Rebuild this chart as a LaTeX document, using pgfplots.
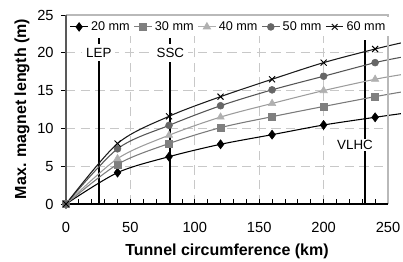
\documentclass[border=0pt]{standalone}
\usepackage{fontspec}
\setmainfont{Liberation Sans}
\usepackage{pgfplots}
\pgfplotsset{compat=1.18}
\definecolor{cA}{HTML}{000000}
\definecolor{cB}{HTML}{7F7F7F}
\definecolor{cBl}{HTML}{7A7A7A}
\definecolor{cC}{HTML}{B0B0B0}
\definecolor{cCl}{HTML}{9C9C9C}
\definecolor{cD}{HTML}{666666}
\definecolor{cDl}{HTML}{555555}
\definecolor{cE}{HTML}{1A1A1A}
\definecolor{gridc}{HTML}{C8C8C8}
\begin{document}
\begin{tikzpicture}
\useasboundingbox (-49.5pt,-42.75pt) rectangle (252.75pt,153pt);
\begin{axis}[
  at={(0,0)}, anchor=south west,
  scale only axis, width=241.5pt, height=141.75pt,
  xmin=0, xmax=250, ymin=0, ymax=25,
  clip=false,
  xtick={0,50,...,250}, ytick={0,5,...,25},
  minor x tick num=4,
  xtick pos=lower, ytick pos=left,
  xtick align=inside, ytick align=outside,
  major tick length=3.75pt, minor tick length=3.75pt,
  tick style={black, line width=0.6pt},
  axis line style={draw=none},
  grid=major,
  major grid style={gridc, line width=0.6pt, dash pattern=on 7pt off 4pt},
  /pgf/number format/assume math mode=true,
  tick label style={font=\fontsize{11}{13}\selectfont},
  xticklabel style={yshift=-10pt},
  yticklabel style={xshift=-2pt},
  xlabel={Tunnel circumference (km)},
  ylabel={Max. magnet length (m)},
  label style={font=\fontsize{12}{14}\selectfont\bfseries},
  xlabel style={at={(axis description cs:0.5,-0.2526)}, anchor=center},
  ylabel style={at={(axis description cs:-0.1366,0.503)}, anchor=center},
  legend columns=5,
  legend style={draw=none, fill=white, at={(0.506,0.937)}, anchor=center,
    font=\fontsize{9.5}{11}\selectfont, inner sep=1pt,
    /tikz/every even column/.append style={column sep=1pt}},
  legend image code/.code={\draw[mark repeat=2,mark phase=2] plot coordinates {(0cm,0cm)(0.23cm,0cm)(0.46cm,0cm)};},
]
% reference lines
\addplot[black, line width=1.6pt, forget plot] coordinates {(25.5,0) (25.5,22)};
\addplot[black, line width=1.6pt, forget plot] coordinates {(81,0) (81,22)};
\addplot[black, line width=1.6pt, forget plot] coordinates {(232,0) (232,21.7)};
\node[fill=white, inner sep=3pt, font=\fontsize{10}{12}\selectfont] at (axis cs:25.5,20) {LEP};
\node[fill=white, inner sep=3pt, font=\fontsize{10}{12}\selectfont] at (axis cs:81,20) {SSC};
\node[fill=white, inner sep=1pt, font=\fontsize{10}{12}\selectfont] at (axis cs:224.4,7.8) {VLHC};
% curves
\addplot[cA, line width=0.8pt, smooth, forget plot] coordinates {(0,0) (40,4.15) (80,6.26) (120,7.9) (160,9.17) (200,10.45) (240,11.47) (260,11.95)};
\addplot[cBl, line width=0.8pt, smooth, forget plot] coordinates {(0,0) (40,5.25) (80,8.0) (120,10.1) (160,11.55) (200,12.9) (240,14.2) (260,14.8)};
\addplot[cCl, line width=0.8pt, smooth, forget plot] coordinates {(0,0) (40,6.0) (80,9.1) (120,11.5) (160,13.3) (200,15.0) (240,16.5) (260,17.1)};
\addplot[cDl, line width=0.8pt, smooth, forget plot] coordinates {(0,0) (40,7.3) (80,10.4) (120,13.0) (160,15.1) (200,16.9) (240,18.7) (260,19.4)};
\addplot[cE, line width=0.8pt, smooth, forget plot] coordinates {(0,0) (40,8.0) (80,11.6) (120,14.2) (160,16.5) (200,18.7) (240,20.5) (260,21.3)};
% markers
\addplot[only marks, mark=diamond*, mark size=3.4pt, color=cA, forget plot] coordinates {(0,0) (40,4.15) (80,6.26) (120,7.9) (160,9.17) (200,10.45) (240,11.47)};
\addplot[only marks, mark=square*, mark size=2.6pt, color=cB, forget plot] coordinates {(0,0) (40,5.25) (80,8.0) (120,10.1) (160,11.55) (200,12.9) (240,14.2)};
\addplot[only marks, mark=triangle*, mark size=3.2pt, color=cC, forget plot] coordinates {(0,0) (40,6.0) (80,9.1) (120,11.5) (160,13.3) (200,15.0) (240,16.5)};
\addplot[only marks, mark=*, mark size=2.6pt, color=cD, forget plot] coordinates {(0,0) (40,7.3) (80,10.4) (120,13.0) (160,15.1) (200,16.9) (240,18.7)};
\addplot[only marks, mark=x, mark size=3.2pt, color=black, line width=0.7pt, forget plot] coordinates {(0,0) (40,8.0) (80,11.6) (120,14.2) (160,16.5) (200,18.7) (240,20.5)};
% legend entries
\addlegendimage{cA, line width=0.8pt, mark=diamond*, mark size=3pt, mark options={fill=cA}}
\addlegendentry{20 mm}
\addlegendimage{cB, line width=0.8pt, mark=square*, mark size=2.4pt}
\addlegendentry{30 mm}
\addlegendimage{cC, line width=0.8pt, mark=triangle*, mark size=3pt}
\addlegendentry{40 mm}
\addlegendimage{cD, line width=0.8pt, mark=*, mark size=2.4pt}
\addlegendentry{50 mm}
\addlegendimage{cE, line width=0.8pt, mark=x, mark size=3pt}
\addlegendentry{60 mm}
% frame
\draw[gridc!80!gray, line width=0.8pt] (rel axis cs:0,1) -- (rel axis cs:1,1) -- (rel axis cs:1,0);
\draw[black!65, line width=0.8pt] (rel axis cs:0,0) -- (rel axis cs:0,1);
\draw[black, line width=0.9pt] (rel axis cs:0,0) -- (rel axis cs:1,0);
\end{axis}
\end{tikzpicture}
\end{document}
